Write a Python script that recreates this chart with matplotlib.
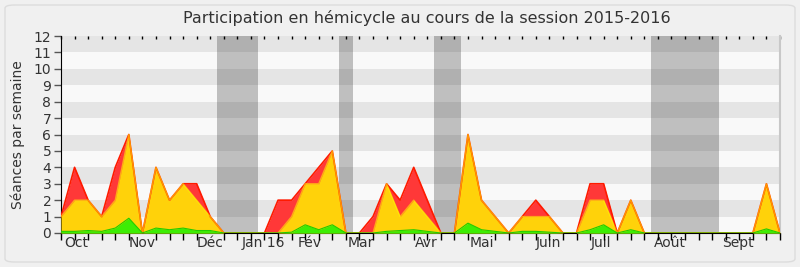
import matplotlib
matplotlib.use("Agg")
import matplotlib.pyplot as plt
from matplotlib.patches import FancyBboxPatch
import numpy as np

# Weekly values (week index 0..53)
total = [1, 4, 2, 1, 4, 6, 0, 4, 2, 3, 3, 1, 0, 0, 0, 0, 2, 2, 3, 4,
         5, 0, 0, 1, 3, 2, 4, 2, 0, 0, 6, 2, 1, 0, 1, 2, 1, 0, 0, 3,
         3, 0, 2, 0, 0, 0, 0, 0, 0, 0, 0, 0, 3, 0]
presence = [1, 2, 2, 1, 2, 6, 0, 4, 2, 3, 2, 1, 0, 0, 0, 0, 0, 1, 3, 3,
            5, 0, 0, 0, 3, 1, 2, 1, 0, 0, 6, 2, 1, 0, 1, 1, 1, 0, 0, 2,
            2, 0, 2, 0, 0, 0, 0, 0, 0, 0, 0, 0, 3, 0]
interventions = [0.1, 0.1, 0.15, 0.1, 0.3, 0.9, 0, 0.3, 0.2, 0.3, 0.15, 0.15, 0, 0, 0, 0, 0, 0.05, 0.5, 0.2,
                 0.5, 0, 0, 0, 0.1, 0.15, 0.2, 0.1, 0, 0, 0.6, 0.2, 0.1, 0, 0.1, 0.1, 0.05, 0, 0, 0.2,
                 0.5, 0, 0.2, 0, 0, 0, 0, 0, 0, 0, 0, 0, 0.25, 0]
month_labels = ["Oct", "Nov", "Déc", "Jan 16", "Fév", "Mar", "Avr", "Mai", "Juin", "Juil", "Août", "Sept"]
month_pos = [1.1, 6.0, 11.0, 14.9, 18.3, 22.1, 26.9, 31.0, 35.9, 39.8, 44.9, 49.9]
vacations = [(11.5, 14.5), (20.5, 21.5), (27.5, 29.5), (43.5, 48.5)]

weeks = np.arange(len(total))

fig = plt.figure(figsize=(8, 2.67), dpi=100)
fig.patch.set_facecolor("#f0f0f0")
frame = FancyBboxPatch((5 / 800, 5 / 267), 790 / 800, 257 / 267,
                       boxstyle="round,pad=0,rounding_size=0.012",
                       transform=fig.transFigure, facecolor="none",
                       edgecolor="#dcdcdc", linewidth=1, zorder=-1)
fig.patches.append(frame)

ax = fig.add_axes([61 / 800, 1 - 233 / 267, 719 / 800, 197 / 267])
ax.set_facecolor("#f9f9f9")
ax.set_xlim(0, 53)
ax.set_ylim(0, 12)

for k in range(1, 12, 2):
    ax.axhspan(k, k + 1, color="#e5e5e5", lw=0, zorder=0)
for a, b in vacations:
    ax.axvspan(a, b, color="black", alpha=0.23, lw=0, zorder=1)

ax.fill_between(weeks, 0, total, color="#ff3838", lw=0, zorder=2)
ax.fill_between(weeks, 0, presence, color="#ffd20a", lw=0, zorder=3)
ax.fill_between(weeks, 0, interventions, color="#3ded05", lw=0, zorder=4)
ax.plot(weeks, total, color="#ff1a00", lw=1.2, zorder=5)
ax.plot(weeks, presence, color="#ffff00", lw=1.0, alpha=0.55, zorder=6)
ax.plot(weeks, interventions, color="#22cc00", lw=0.8, zorder=7)

ax.set_yticks(range(0, 13))
ax.tick_params(axis="y", length=5, width=1, color="#555555", labelcolor="#333333",
               labelsize=10, pad=2)
ax.set_xticks(month_pos)
ax.set_xticklabels(month_labels)
ax.set_xticks(weeks, minor=True)
ax.tick_params(axis="x", which="major", length=0, labelcolor="#333333", labelsize=10, pad=2)
ax.tick_params(axis="x", which="minor", length=5, width=1, color="black",
               bottom=True, top=False, direction="out")

ax.spines["top"].set_visible(False)
ax.spines["right"].set_color("#c8c8c8")
ax.spines["right"].set_linewidth(1.5)
ax.spines["left"].set_color("black")
ax.spines["bottom"].set_color("black")

# small top tick dots
ax2 = ax.secondary_xaxis("top")
ax2.set_xticks(weeks)
ax2.set_xticklabels([])
ax2.tick_params(length=2, direction="in", color="black", width=1)
ax2.spines["top"].set_visible(False)

ax.set_ylabel("Séances par semaine", fontsize=10, color="#333333", labelpad=6)
fig.text(427 / 800, 1 - 18 / 267, "Participation en hémicycle au cours de la session 2015-2016",
         ha="center", va="center", fontsize=11.5, color="#333333")

fig.savefig("out.png", dpi=100, facecolor=fig.get_facecolor())
